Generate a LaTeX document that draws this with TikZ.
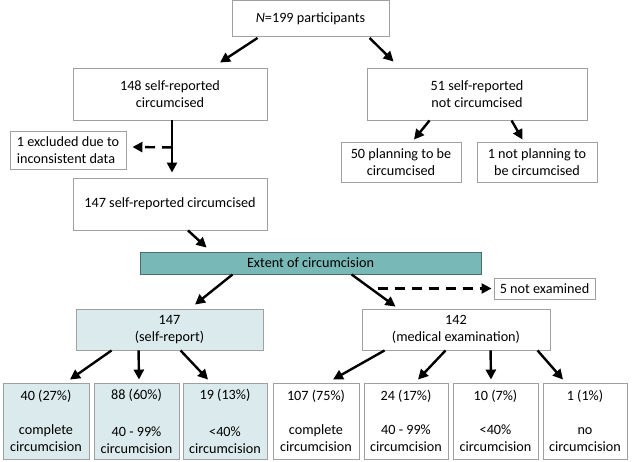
\documentclass[tikz,border=0pt]{standalone}
\usepackage{fontspec}
\setmainfont{Carlito}
\usetikzlibrary{arrows.meta,calc}
\definecolor{teal1}{RGB}{120,185,184}
\definecolor{pale}{RGB}{219,234,236}
\definecolor{edge}{RGB}{160,160,160}
\tikzset{
  box/.style={draw=edge, line width=0.9pt, fill=white, rectangle, inner sep=0pt, align=center,
    font=\fontsize{14.2}{17}\selectfont},
  arr/.style={line width=2.4pt, -{Triangle[length=10pt,width=10pt]}},
  darr/.style={line width=2.4pt, dash pattern=on 10pt off 7pt, -{Triangle[length=10pt,width=10pt]}},
}
\begin{document}
\begin{tikzpicture}[x=1pt,y=-1pt]
\fill[white] (0,0) rectangle (640,461);
\useasboundingbox (0,0) rectangle (640,461);
% nodes
\node[box, minimum width=157pt, minimum height=36pt] (top) at (310.5,18.5) {\textit{N}=199 participants};
\node[box, minimum width=194pt, minimum height=52pt] (n148) at (170,94) {148 self-reported\\circumcised};
\node[box, minimum width=220pt, minimum height=52pt] (n51) at (477,94) {51 self-reported\\not circumcised};
\node[box, minimum width=116pt, minimum height=38pt, align=left] (excl) at (68,150) {1 excluded due to\\inconsistent data};
\node[box, minimum width=194pt, minimum height=52pt] (n147) at (170,204) {147 self-reported circumcised};
\node[box, minimum width=120pt, minimum height=40pt] (plan) at (401,162) {50 planning to be\\circumcised};
\node[box, minimum width=120pt, minimum height=40pt] (noplan) at (537,162) {1 not planning to\\be circumcised};
\node[box, fill=teal1, draw=teal1!60!black, minimum width=341pt, minimum height=22pt] (extent) at (310.5,263) {Extent of circumcision};
\node[box, minimum width=101pt, minimum height=21pt] (notex) at (544.5,288.5) {5 not examined};
\node[box, fill=pale, minimum width=187pt, minimum height=41pt] (self) at (169.5,329.5) {147\\(self-report)};
\node[box, minimum width=188pt, minimum height=41pt] (med) at (456,329.5) {142\\(medical examination)};
\node[box, fill=pale, minimum width=86pt, minimum height=76pt] (b1) at (46,421) {40 (27\%)\\[16.5pt]complete\\circumcision};
\node[box, fill=pale, minimum width=85pt, minimum height=76pt] (b2) at (136.5,421) {88 (60\%)\\[20pt]40 - 99\%\\circumcision};
\node[box, fill=pale, minimum width=84pt, minimum height=76pt] (b3) at (225,421) {19 (13\%)\\[20pt]<40\%\\circumcision};
\node[box, minimum width=86pt, minimum height=76pt] (b4) at (316,421) {107 (75\%)\\[16.5pt]complete\\circumcision};
\node[box, minimum width=84pt, minimum height=76pt] (b5) at (406,421) {24 (17\%)\\[16.5pt]40 - 99\%\\circumcision};
\node[box, minimum width=85pt, minimum height=76pt] (b6) at (495.5,421) {10 (7\%)\\[16.5pt]<40\%\\circumcision};
\node[box, minimum width=84pt, minimum height=76pt] (b7) at (585,421) {1 (1\%)\\[16.5pt]no\\circumcision};
% connectors
\draw[arr] ($(top.south west)+(26,1)$) -- ($(n148.north)+(50,-5)$);
\draw[arr] ($(top.south west)+(138,1)$) -- ($(n51.north west)+(27,-6)$);
\draw[arr] ($(n148.south)+(2,0)$) -- ($(n147.north)+(2,-5)$);
\coordinate (split) at ($(n148.south)+(2,27)$);
\draw[darr] (split) -- ($(excl.east)+(6,-3)$);
\draw[arr] ($(n51.south west)+(63,0)$) -- ($(plan.north)+(13,-2)$);
\draw[arr] ($(n51.south west)+(145,0)$) -- ($(noplan.north west)+(46,-2)$);
\draw[arr] ($(n147.south)+(18,0)$) -- ($(extent.north west)+(67,-4)$);
\draw[arr] ($(extent.south west)+(93,0)$) -- ($(self.north)+(25.5,-4)$);
\draw[arr] ($(extent.south west)+(212,0)$) -- ($(med.north west)+(34,-2)$);
\coordinate (split2) at ($(notex.west)+(-116,0)$);
\draw[darr] (split2) -- ($(notex.west)+(-2,0)$);
\draw[arr] ($(self.south west)+(36,0)$) -- ($(b1.north)+(24,-3)$);
\draw[arr] ($(self.south west)+(63,0)$) -- ($(b2.north)+(2.5,-3)$);
\draw[arr] ($(self.south west)+(105,0)$) -- ($(b3.north)+(-17,-3)$);
\draw[arr] ($(med.south west)+(23,0)$) -- ($(b4.north)+(17,-3)$);
\draw[arr] ($(med.south west)+(84,0)$) -- ($(b5.north)+(12,-3)$);
\draw[arr] ($(med.south west)+(129,0)$) -- ($(b6.north)+(-4.5,-3)$);
\draw[arr] ($(med.south west)+(176,0)$) -- ($(b7.north)+(-22,-3)$);
\end{tikzpicture}
\end{document}
